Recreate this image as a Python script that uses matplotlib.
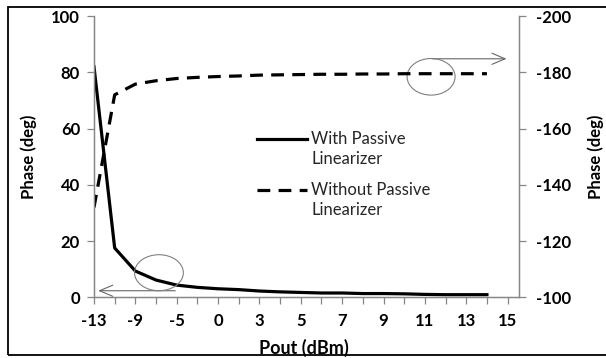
import matplotlib
matplotlib.use("Agg")
import matplotlib.pyplot as plt
from matplotlib.patches import Ellipse, Rectangle
from matplotlib.lines import Line2D
from matplotlib.legend_handler import HandlerLine2D
import numpy as np

# category axis (Excel style): every other label is shown
pout_labels = ['-13', '-11', '-9', '-7', '-5', '-2', '0', '1', '3', '4', '5',
               '6', '7', '8', '9', '10', '11', '12', '13', '14', '15']

# phase with passive linearizer (left axis, deg)
phase_with = [82, 17.6, 9.4, 6.2, 4.4, 3.6, 3.1, 2.8, 2.3, 2.0,
              1.8, 1.6, 1.6, 1.4, 1.4, 1.3, 1.1, 1.0, 1.0, 1.0]
# phase without passive linearizer (right axis, deg)
phase_without = [-132, -172, -175.8, -177, -177.8, -178.2, -178.5, -178.7, -179, -179.1,
                 -179.2, -179.3, -179.3, -179.4, -179.4, -179.5, -179.5, -179.5, -179.5, -179.5]

# annotation helpers (data coords on the left axis)
ell_left = (3.14, 8.8, 2.36, 12.8)
ell_right = (16.3, 78.4, 2.32, 13.0)
arrow_left = ((3.93, 2.4), (0.2, 2.4))
arrow_right = ((16.34, 84.8), (19.95, 84.8))

FONT = 'Lato'
AXCOL = '#868686'
ANNCOL = '#666666'


class FirstLineHandler(HandlerLine2D):
    # put the legend line next to the first line of a two line label
    def create_artists(self, legend, orig_handle, xdescent, ydescent,
                       width, height, fontsize, trans):
        return super().create_artists(legend, orig_handle, xdescent,
                                      ydescent - 1.3 * fontsize, width, height,
                                      fontsize, trans)


def main():
    plt.rcParams['font.family'] = [FONT, 'DejaVu Sans']
    plt.rcParams['axes.unicode_minus'] = False

    fig = plt.figure(figsize=(6.06, 3.58), dpi=100)
    ax = fig.add_axes([0.1551, 0.169, 0.7013, 0.7863])
    ax2 = ax.twinx()

    x = np.arange(len(phase_with))
    l1, = ax.plot(x, phase_with, color='black', lw=2.3, solid_joinstyle='round',
                  label='With Passive\nLinearizer')
    l2, = ax2.plot(x, phase_without, color='black', lw=2.3, dashes=(4, 2.6),
                   dash_capstyle='butt', label='Without Passive\nLinearizer')

    ax.set_xlim(0, len(pout_labels) - 0.45)
    ax.set_ylim(0, 100)
    ax.set_yticks(np.arange(0, 101, 20))
    ax2.set_ylim(-100, -200)
    ax2.set_yticks(np.arange(-200, -99, 20))

    ax.set_xticks(np.arange(len(pout_labels)))
    ax.set_xticklabels([lab if i % 2 == 0 else '' for i, lab in enumerate(pout_labels)])

    for a in (ax, ax2):
        for s in a.spines.values():
            s.set_color(AXCOL)
            s.set_linewidth(0.9)
        a.spines['top'].set_visible(False)
        a.tick_params(colors=AXCOL, length=5, width=0.9, labelcolor='black',
                      labelsize=12)
        for t in a.get_xticklabels() + a.get_yticklabels():
            t.set_fontweight('bold')
    ax.tick_params(axis='y', pad=5)
    ax.tick_params(axis='x', pad=6)
    ax2.tick_params(axis='y', pad=7)

    ax.set_ylabel('Phase (deg)', fontsize=12, fontweight='bold')
    ax2.set_ylabel('Phase (deg)', fontsize=12, fontweight='bold')
    ax.yaxis.set_label_coords(-0.134, 0.5)
    ax2.yaxis.set_label_coords(1.160, 0.5)
    ax.set_xlabel('Pout (dBm)', fontsize=13, fontweight='bold')
    ax.xaxis.set_label_coords(0.494, -0.147)

    # circles and arrows pointing at the matching axis
    for cx, cy, w, h in (ell_left, ell_right):
        ax.add_patch(Ellipse((cx, cy), w, h, fill=False, ec='#808080', lw=0.8, zorder=5))
    for (x0, y0), (x1, y1) in (arrow_left, arrow_right):
        ax.annotate('', xy=(x1, y1), xytext=(x0, y0),
                    arrowprops=dict(arrowstyle='->, head_length=0.95, head_width=0.4',
                                    color=ANNCOL, lw=0.8, shrinkA=0, shrinkB=0))

    leg = ax2.legend([l1, l2], [l1.get_label(), l2.get_label()], loc='upper left',
                     bbox_to_anchor=(0.384, 0.592), frameon=False, fontsize=12,
                     handlelength=3.0, handletextpad=0.25, borderpad=0,
                     borderaxespad=0, labelspacing=0.9,
                     handler_map={Line2D: FirstLineHandler()})
    for t in leg.get_texts():
        t.set_color('#262626')
        t.set_linespacing(1.3)

    # outer chart border
    fig.patches.append(Rectangle((8 / 606, 3 / 358), 1.2, 1 - 10 / 358,
                                 transform=fig.transFigure, fill=False,
                                 ec='black', lw=1.3))

    fig.savefig('out.png', dpi=100)


if __name__ == '__main__':
    main()
